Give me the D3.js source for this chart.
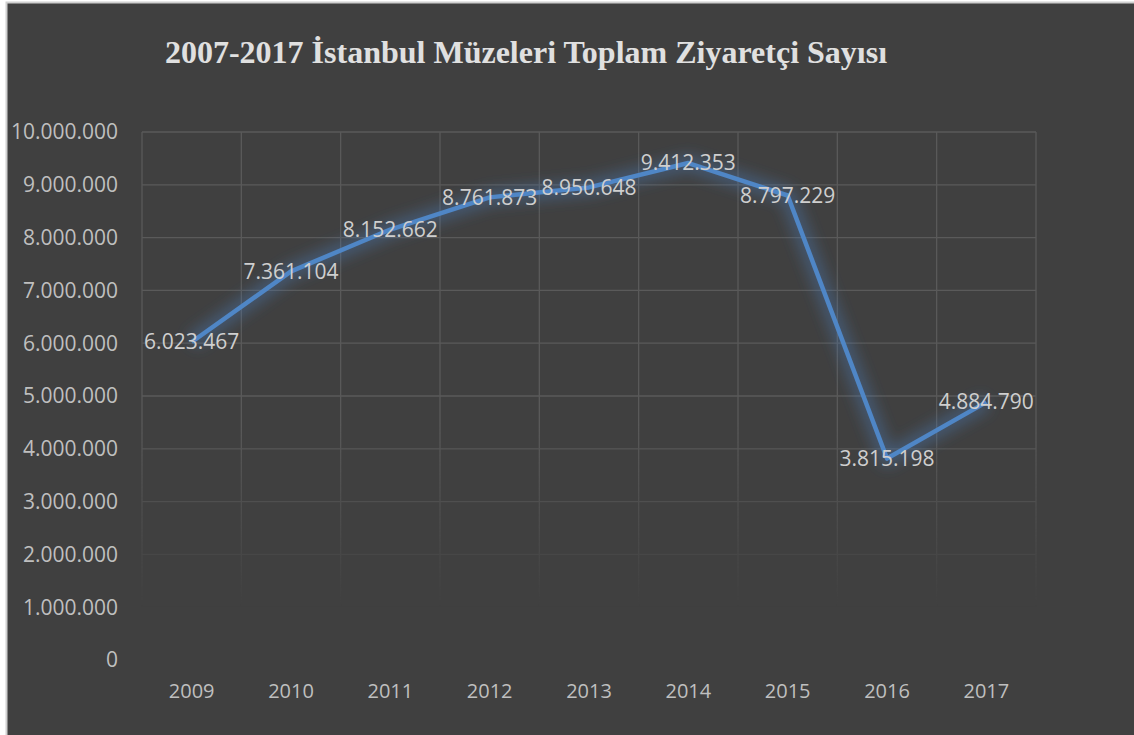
<!DOCTYPE html>
<html>
<head>
<meta charset="utf-8">
<script src="https://cdn.jsdelivr.net/npm/d3@7"></script>
<style>
  html, body { margin: 0; padding: 0; background: #ffffff; }
  svg { display: block; }
</style>
</head>
<body>
<div id="chart"></div>
<script>
const years = ["2009", "2010", "2011", "2012", "2013", "2014", "2015", "2016", "2017"];
const visitors = [6023467, 7361104, 8152662, 8761873, 8950648, 9412353, 8797229, 3815198, 4884790];
const yTicks = [0, 1000000, 2000000, 3000000, 4000000, 5000000, 6000000, 7000000, 8000000, 9000000, 10000000];
const title = "2007-2017 İstanbul Müzeleri Toplam Ziyaretçi Sayısı";

const width = 1134, height = 735;
const plot = { left: 142, right: 1036, top: 132, bottom: 660 };

// turkish style thousands separator
const fmt = d3.formatLocale({ decimal: ",", thousands: ".", grouping: [3], currency: ["", ""] }).format(",d");

const svg = d3.select("#chart").append("svg")
    .attr("width", width)
    .attr("height", height);

const defs = svg.append("defs");

// glow under the line
const glow = defs.append("filter").attr("id", "glow")
    .attr("x", "-20%").attr("y", "-20%").attr("width", "140%").attr("height", "140%");
glow.append("feGaussianBlur").attr("stdDeviation", 7);

// gridlines fade out toward the bottom
const fade = defs.append("linearGradient").attr("id", "fade")
    .attr("gradientUnits", "userSpaceOnUse")
    .attr("x1", 0).attr("y1", plot.top).attr("x2", 0).attr("y2", plot.bottom);
fade.append("stop").attr("offset", "0.55").attr("stop-color", "#fff").attr("stop-opacity", 1);
fade.append("stop").attr("offset", "0.9").attr("stop-color", "#fff").attr("stop-opacity", 0);
const mask = defs.append("mask").attr("id", "gridMask")
    .attr("maskUnits", "userSpaceOnUse")
    .attr("x", 0).attr("y", 0).attr("width", width).attr("height", height);
mask.append("rect").attr("x", 0).attr("y", 0).attr("width", width).attr("height", height)
    .attr("fill", "url(#fade)");

// chart area
svg.append("rect")
    .attr("x", 6.5).attr("y", 2.5)
    .attr("width", width).attr("height", height)
    .attr("fill", "#404040")
    .attr("stroke", "#d0d0d0")
    .attr("stroke-width", 2);

const x = d3.scaleBand().domain(years).range([plot.left, plot.right]);
const y = d3.scaleLinear().domain([0, 10000000]).range([plot.bottom, plot.top]);

const grid = svg.append("g").attr("mask", "url(#gridMask)")
    .attr("stroke", "#5a5a5a").attr("stroke-width", 1.3);

grid.selectAll(".h").data(yTicks.filter(d => d > 0)).join("line")
    .attr("x1", plot.left).attr("x2", plot.right)
    .attr("y1", d => y(d)).attr("y2", d => y(d));

grid.selectAll(".v").data(years.concat(["end"])).join("line")
    .attr("x1", (d, i) => plot.left + i * x.step())
    .attr("x2", (d, i) => plot.left + i * x.step())
    .attr("y1", plot.top).attr("y2", plot.bottom);

// y axis labels
svg.append("g").selectAll("text").data(yTicks).join("text")
    .attr("x", 118)
    .attr("y", d => y(d))
    .attr("dy", "0.35em")
    .attr("text-anchor", "end")
    .attr("fill", "#bfbfbf")
    .attr("font-family", "Open Sans, sans-serif")
    .attr("font-size", 21)
    .text(d => fmt(d));

// x axis labels
svg.append("g").selectAll("text").data(years).join("text")
    .attr("x", d => x(d) + x.bandwidth() / 2)
    .attr("y", 691)
    .attr("dy", "0.35em")
    .attr("text-anchor", "middle")
    .attr("fill", "#bfbfbf")
    .attr("font-family", "Open Sans, sans-serif")
    .attr("font-size", 20)
    .text(d => d);

// line
const line = d3.line()
    .x((d, i) => x(years[i]) + x.bandwidth() / 2)
    .y(d => y(d));

svg.append("path")
    .datum(visitors)
    .attr("d", line)
    .attr("fill", "none")
    .attr("stroke", "#4a7ebb")
    .attr("stroke-opacity", 0.4)
    .attr("stroke-width", 16)
    .attr("stroke-linejoin", "round")
    .attr("filter", "url(#glow)");

svg.append("path")
    .datum(visitors)
    .attr("d", line)
    .attr("fill", "none")
    .attr("stroke", "#4f86c6")
    .attr("stroke-width", 4.5)
    .attr("stroke-linejoin", "round");

// data labels, centered on the points
svg.append("g").selectAll("text").data(visitors).join("text")
    .attr("x", (d, i) => x(years[i]) + x.bandwidth() / 2)
    .attr("y", d => y(d))
    .attr("dy", "0.35em")
    .attr("text-anchor", "middle")
    .attr("fill", "#cfcfcf")
    .attr("font-family", "Open Sans, sans-serif")
    .attr("font-size", 21)
    .text(d => fmt(d));

// title
svg.append("text")
    .attr("x", 526)
    .attr("y", 63)
    .attr("text-anchor", "middle")
    .attr("fill", "#e0e0e0")
    .attr("font-family", "Liberation Serif, Times New Roman, serif")
    .attr("font-weight", "bold")
    .attr("font-size", 32)
    .text(title);
</script>
</body>
</html>
